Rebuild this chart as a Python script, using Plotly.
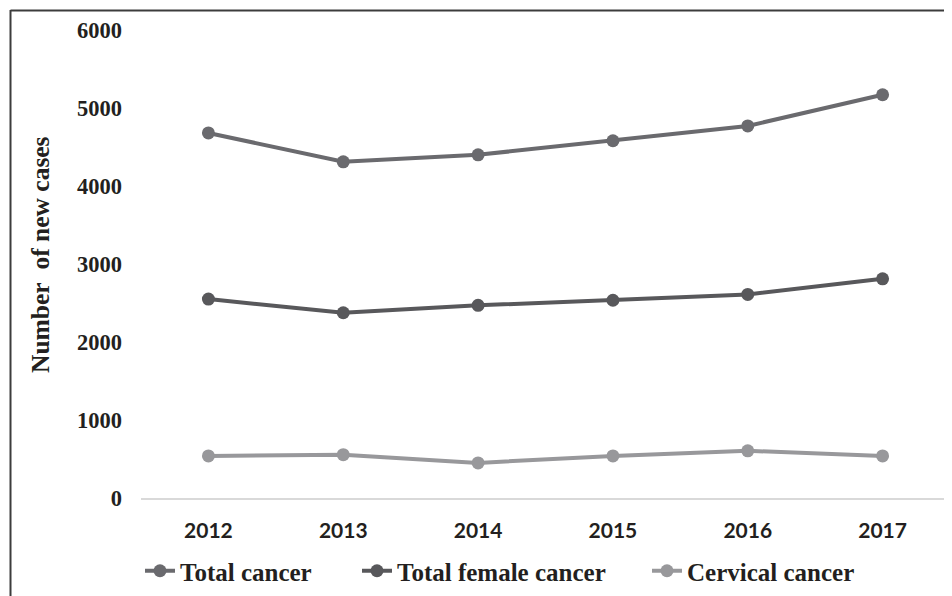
import plotly.graph_objects as go

years = ["2012", "2013", "2014", "2015", "2016", "2017"]
total_cancer = [4680, 4310, 4400, 4580, 4770, 5170]
total_female = [2550, 2375, 2470, 2535, 2610, 2810]
cervical = [540, 555, 450, 540, 605, 540]
y_ticks = [0, 1000, 2000, 3000, 4000, 5000, 6000]

series = [
    ("Total cancer", total_cancer, "#6a6a6e", "legend"),
    ("Total female cancer", total_female, "#58585b", "legend2"),
    ("Cervical cancer", cervical, "#98989b", "legend3"),
]

# page body margin offset (px) compensated in layout
OFF = 8
L, R, T, B = 141 - OFF, 952 - 950 + OFF, 30 - OFF, 596 - 498 + OFF
PW = 952 - L - R
PH = 596 - T - B


def px_x(px):
    return (px - OFF - L) / PW


def px_y(py):
    return (596 - B - (py - OFF)) / PH


fig = go.Figure()
for name, vals, color, leg in series:
    fig.add_trace(go.Scatter(
        x=years, y=vals, name=name, mode="lines+markers",
        line=dict(color=color, width=4),
        marker=dict(color=color, size=13),
        legend=leg,
    ))

serif = "Liberation Serif"
leg_font = dict(family=serif, size=25, color="#231f20", weight="bold")
leg_common = dict(orientation="h", yanchor="middle", xanchor="left",
                  y=px_y(571), font=leg_font, bgcolor="rgba(0,0,0,0)",
                  borderwidth=0, tracegroupgap=0)

fig.update_layout(
    width=952, height=596,
    margin=dict(l=L, r=R, t=T, b=B),
    paper_bgcolor="white", plot_bgcolor="white",
    showlegend=True,
    legend=dict(x=px_x(140), **leg_common),
    legend2=dict(x=px_x(357), **leg_common),
    legend3=dict(x=px_x(647), **leg_common),
    xaxis=dict(
        type="category", range=[-0.5, 5.5],
        showgrid=False, zeroline=False,
        showline=True, linecolor="#d9d9d9", linewidth=2,
        ticks="", ticklabelstandoff=13,
        tickfont=dict(family="Lato", size=21, color="#231f20", weight="bold"),
    ),
    yaxis=dict(
        range=[0, 6000], tickvals=y_ticks,
        showgrid=False, zeroline=False, showline=False,
        ticks="", ticklabelstandoff=18,
        tickfont=dict(family=serif, size=22.5, color="#231f20", weight="bold"),
    ),
    annotations=[dict(
        text="Number&nbsp;&nbsp;of new cases", textangle=-90,
        xref="paper", yref="paper", x=px_x(41), y=px_y(255),
        xanchor="center", yanchor="middle", showarrow=False,
        font=dict(family=serif, size=25.5, color="#231f20", weight="bold"),
    )],
    shapes=[
        dict(type="line", xref="paper", yref="paper",
             x0=px_x(10.5), x1=px_x(10.5),
             y0=px_y(10), y1=px_y(620),
             line=dict(color="#3c3c3c", width=2)),
        dict(type="line", xref="paper", yref="paper",
             x0=px_x(10.5), x1=px_x(970),
             y0=px_y(10.5), y1=px_y(10.5),
             line=dict(color="#3c3c3c", width=2)),
    ],
)

fig.write_html("out.html")
